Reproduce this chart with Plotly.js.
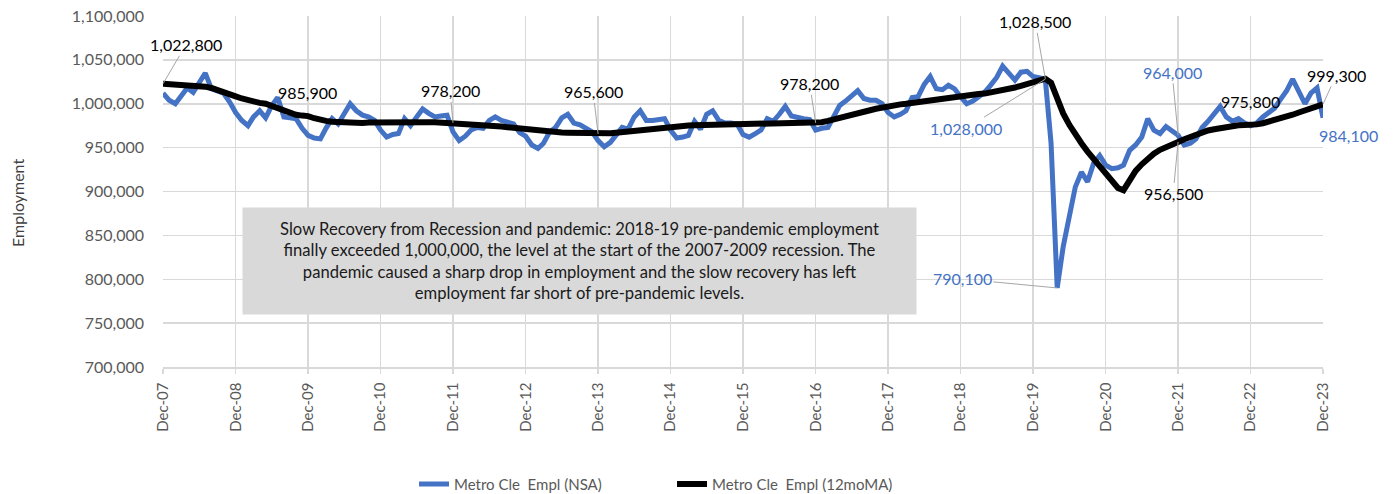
<!DOCTYPE html>
<html>
<head>
<meta charset="utf-8">
<script src="https://cdn.plot.ly/plotly-3.0.1.min.js"></script>
<style>
  html, body { margin: 0; padding: 0; background: #ffffff; }
  #chart { width: 1394px; height: 494px; }
</style>
</head>
<body>
<div id="chart"></div>
<script>
// ---------------- DATA ----------------
// Monthly observations, Dec-2007 .. Dec-2023 (193 months)
const firstYear = 2007, firstMonth = 12, monthCount = 193;

const seriesNames = ['Metro Cle\u00a0\u00a0Empl (NSA)', 'Metro Cle\u00a0\u00a0Empl (12moMA)'];

const nsa = [
  1012000, 1004000, 1000000, 1009000, 1018000, 1013000, 1024000, 1035000, 1017000, 1015000, 1012000, 1002000,
  990000, 981000, 975000, 985000, 992000, 984000, 998000, 1007000, 985000, 984000, 983000, 972000,
  964000, 961000, 960000, 972000, 983000, 977000, 990000, 1000000, 992000, 987000, 985000, 981000,
  970000, 962000, 965000, 966000, 983000, 975000, 985000, 994000, 989000, 985000, 986000, 987000,
  968000, 958000, 963000, 970000, 973000, 972000, 981000, 985000, 981000, 979000, 977000, 967000,
  963000, 953000, 949000, 955000, 968000, 973000, 984000, 988000, 978000, 976000, 972000, 968000,
  958000, 951000, 956000, 965000, 973000, 971000, 985000, 992000, 981000, 981000, 982000, 983000,
  970000, 961000, 962000, 964000, 980000, 971000, 988000, 992000, 981000, 978000, 978000, 977000,
  965000, 962000, 966000, 970000, 983000, 980000, 988000, 997000, 986000, 984000, 983000, 982000,
  970000, 972000, 973000, 985000, 998000, 1003000, 1010000, 1015000, 1006000, 1004000, 1004000, 1000000,
  990000, 985000, 988000, 992000, 1007000, 1008000, 1022000, 1031000, 1017000, 1016000, 1021000, 1017000,
  1008000, 1000000, 1003000, 1007000, 1013000, 1021000, 1030000, 1043000, 1034000, 1027000, 1036000, 1037000,
  1031000, 1029000, 1028000, 955000, 790100, 837000, 875000, 905000, 922000, 911000, 932000, 941000,
  930000, 926000, 927000, 930000, 947000, 953000, 962000, 983000, 970000, 966000, 974000, 968000,
  964000, 953000, 955000, 960000, 973000, 980000, 988000, 997000, 985000, 980000, 983000, 978000,
  975000, 978000, 985000, 989000, 995000, 1005000, 1015000, 1028000, 1015000, 1000000, 1012000, 1018000,
  984100
];

const ma12 = [
  1022800, 1022500, 1022000, 1021500, 1021000, 1020500, 1020000, 1019500, 1018000, 1016000, 1013500, 1011000,
  1008500, 1006000, 1004000, 1002000, 1001000, 1000000, 997500, 995000, 992500, 989000, 987500, 986500,
  985900, 983500, 981500, 980500, 979500, 979000, 978500, 978000, 978000, 978200, 978500, 978700,
  979000, 979000, 979000, 979000, 979200, 979300, 979300, 979200, 979000, 978800, 978500, 978300,
  978200, 977800, 977300, 976800, 976300, 975700, 975000, 974500, 974000, 973200, 972400, 971500,
  970500, 969500, 968800, 968300, 968000, 967600, 967200, 967000, 966800, 966500, 966200, 965800,
  965600, 965800, 966300, 967000, 967800, 968600, 969500, 970400, 971200, 972000, 972800, 973500,
  974000, 974400, 974800, 975100, 975400, 975600, 975800, 975900, 976000, 976000, 976000, 975900,
  975800, 975800, 975900, 976200, 976500, 976900, 977300, 977600, 977800, 978000, 978100, 978200,
  978200, 979000, 980500, 982300, 984000, 985500, 987200, 989000, 990800, 992600, 994300, 996000,
  997500, 998500, 999300, 1000000, 1001000, 1002000, 1003000, 1004400, 1005500, 1006500, 1007500, 1008300,
  1009000, 1009800, 1010500, 1011000, 1011600, 1012700, 1014000, 1015500, 1017000, 1018500, 1020500, 1022500,
  1024500, 1026500, 1028500, 1024000, 1004000, 989000, 976000, 964000, 955000, 945500, 937000, 929000,
  920500, 912000, 904000, 901500, 914500, 923500, 931000, 938000, 943000, 947500, 951000, 954000,
  956500, 959500, 962500, 965000, 967600, 969500, 971000, 972500, 974000, 975000, 975500, 975700,
  975800, 976500, 977800, 979300, 981000, 983000, 985000, 987500, 990000, 992500, 995000, 997000,
  999300
];

const noteLines = [
  'Slow Recovery from Recession and pandemic: 2018-19 pre-pandemic employment',
  'finally exceeded 1,000,000, the level at the start of the 2007-2009 recession. The',
  'pandemic caused a sharp drop in employment and the slow recovery has left',
  'employment far short of pre-pandemic levels.'
];

// ---------------- BUILD ----------------
const months = [];
for (let i = 0; i < monthCount; i++) {
  const m0 = firstMonth - 1 + i;
  const y = firstYear + Math.floor(m0 / 12);
  const m = (m0 % 12) + 1;
  months.push(y + '-' + String(m).padStart(2, '0') + '-01');
}

const BLUE = '#4472C4';
const fmt = v => Math.round(v).toLocaleString('en-US');

// data-label placement (which point, and where its text sits relative to it, in px)
const labelSpecs = [
  { s: 'ma',  i: 0,   ax: 23,  ay: -39 },
  { s: 'ma',  i: 24,  dx: -1,  dy: 24 },
  { s: 'ma',  i: 48,  ax: -3,  ay: -32 },
  { s: 'ma',  i: 72,  ax: -5,  ay: -42 },
  { s: 'ma',  i: 108, ax: -6,  ay: -39 },
  { s: 'ma',  i: 146, ax: -10, ay: -57 },
  { s: 'nsa', i: 146, ax: -79, ay: 49 },
  { s: 'nsa', i: 148, ax: -95, ay: -9 },
  { s: 'nsa', i: 168, ax: -6,  ay: -63 },
  { s: 'ma',  i: 168, ax: -5,  ay: 52 },
  { s: 'ma',  i: 180, dx: 0,   dy: 23 },
  { s: 'ma',  i: 192, ax: 13,  ay: -29 },
  { s: 'nsa', i: 192, dx: 25,  dy: -18 }
];

const annotations = labelSpecs.map(sp => {
  const arr = sp.s === 'ma' ? ma12 : nsa;
  const color = sp.s === 'ma' ? '#000000' : BLUE;
  const a = {
    x: months[sp.i], y: arr[sp.i], xref: 'x', yref: 'y',
    text: fmt(arr[sp.i]),
    font: { family: 'Lato, sans-serif', size: 16, color: color }
  };
  if (sp.ax !== undefined) {
    Object.assign(a, { showarrow: true, ax: sp.ax, ay: sp.ay, arrowhead: 0,
      arrowwidth: 1, arrowcolor: '#a6a6a6', standoff: 0, startstandoff: 0 });
  } else {
    Object.assign(a, { showarrow: false, xshift: sp.dx, yshift: sp.dy });
  }
  return a;
});

annotations.push({
  xref: 'paper', yref: 'paper', x: 0.359, y: 0.301,
  xanchor: 'center', yanchor: 'middle',
  text: noteLines.join('<br>'), showarrow: false, align: 'center',
  bgcolor: '#d9d9d9', width: 673, height: 106, borderpad: 0,
  font: { family: 'Lato, sans-serif', size: 16.6, color: '#1a1a1a' }
});

annotations.push({
  xref: 'paper', yref: 'paper', x: -0.1254, y: 0.466,
  xanchor: 'center', yanchor: 'middle', textangle: -90,
  text: 'Employment', showarrow: false,
  font: { family: 'Lato, sans-serif', size: 16, color: '#404040' }
});

const traces = [
  { x: months, y: nsa, name: seriesNames[0], type: 'scatter', mode: 'lines',
    line: { color: BLUE, width: 5 }, hoverinfo: 'skip' },
  { x: months, y: ma12, name: seriesNames[1], type: 'scatter', mode: 'lines',
    line: { color: '#000000', width: 6 }, hoverinfo: 'skip' }
];

const layout = {
  width: 1394, height: 494,
  margin: { l: 163, r: 71, t: 16, b: 127, autoexpand: false },
  paper_bgcolor: '#ffffff', plot_bgcolor: '#ffffff',
  font: { family: 'Lato, sans-serif', color: '#595959' },
  showlegend: true,
  legend: {
    orientation: 'h', x: 0.2164, xanchor: 'left', y: -0.334, yanchor: 'middle',
    font: { family: 'Lato, sans-serif', size: 15, color: '#595959' },
    entrywidth: 213, bgcolor: 'rgba(0,0,0,0)'
  },
  xaxis: {
    type: 'date', range: [months[0], months[monthCount - 1]],
    tick0: months[0], dtick: 'M12', tickformat: '%b-%y', tickangle: -90,
    showgrid: true, gridcolor: '#d9d9d9', gridwidth: 1.5,
    ticks: 'outside', ticklen: 5, tickcolor: '#d9d9d9', tickwidth: 1.5,
    showline: true, linecolor: '#d9d9d9', linewidth: 1.5,
    zeroline: false, ticklabelstandoff: 3, automargin: false,
    tickfont: { family: 'Lato, sans-serif', size: 15, color: '#595959' }
  },
  yaxis: {
    range: [700000, 1100000], dtick: 50000, tickformat: ',d',
    showgrid: true, gridcolor: '#d9d9d9', gridwidth: 1.5,
    zeroline: false, showline: false, ticks: '', ticklabelstandoff: 18, automargin: false,
    tickfont: { family: 'Lato, sans-serif', size: 16, color: '#595959' }
  },
  annotations: annotations
};

Plotly.newPlot('chart', traces, layout, { staticPlot: true, displayModeBar: false });
</script>
</body>
</html>
